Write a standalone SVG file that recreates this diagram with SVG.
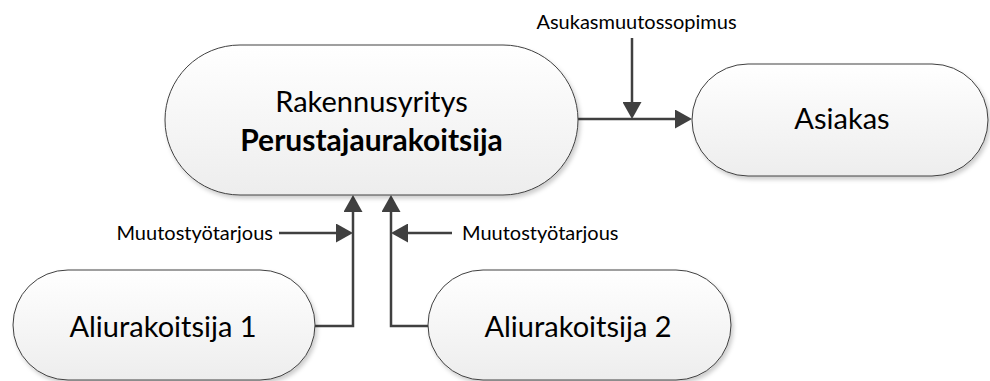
<svg xmlns="http://www.w3.org/2000/svg" width="990" height="381" viewBox="0 0 990 381">
  <defs>
    <linearGradient id="fillGrad" x1="0" y1="0" x2="0" y2="1">
      <stop offset="0" stop-color="#ffffff"/>
      <stop offset="1" stop-color="#ededed"/>
    </linearGradient>
    <filter id="shadow" x="-10%" y="-10%" width="125%" height="130%">
      <feDropShadow dx="2" dy="3" stdDeviation="2" flood-color="#000000" flood-opacity="0.2"/>
    </filter>
    <marker id="arrow" markerUnits="userSpaceOnUse" markerWidth="18" markerHeight="19" refX="12" refY="9.5" orient="auto" viewBox="0 0 18 19">
      <path d="M0,0 L17,9.5 L0,19 z" fill="#404040"/>
    </marker>
    <style>
      .node { fill: url(#fillGrad); stroke: #404040; stroke-width: 1; filter: url(#shadow); }
      .big { font-family: Lato, "Liberation Sans", sans-serif; font-size: 29px; fill: #000; text-anchor: middle; }
      .bold { font-weight: bold; font-size: 30px; }
      .lbl { font-family: Lato, "Liberation Sans", sans-serif; font-size: 20px; fill: #000; }
      .conn { fill: none; stroke: #404040; stroke-width: 2.5; }
    </style>
  </defs>

  <g id="connectors">
    <path class="conn" d="M578,119 L687,119" marker-end="url(#arrow)"/>
    <path class="conn" d="M632,38 L632,114" marker-end="url(#arrow)"/>
    <path class="conn" d="M315,326 L353,326 L353,200" marker-end="url(#arrow)"/>
    <path class="conn" d="M428,326 L391,326 L391,200" marker-end="url(#arrow)"/>
    <path class="conn" d="M279,233 L348,233" marker-end="url(#arrow)"/>
    <path class="conn" d="M452,233 L396,233" marker-end="url(#arrow)"/>
    <text class="lbl" x="636.5" y="29" text-anchor="middle">Asukasmuutossopimus</text>
    <text class="lbl" x="273" y="240" text-anchor="end">Muutostyötarjous</text>
    <text class="lbl" x="462" y="240" text-anchor="start">Muutostyötarjous</text>
  </g>

  <g id="perustajaurakoitsija">
    <rect class="node" x="165" y="45" width="413" height="150" rx="75" ry="75"/>
    <text class="big" x="371.5" y="112">Rakennusyritys</text>
    <text class="big bold" x="371.5" y="151">Perustajaurakoitsija</text>
  </g>

  <g id="asiakas">
    <rect class="node" x="692" y="64" width="296" height="112" rx="56" ry="56"/>
    <text class="big" x="842" y="129">Asiakas</text>
  </g>

  <g id="aliurakoitsija1">
    <rect class="node" x="13" y="270" width="302" height="110" rx="55" ry="55"/>
    <text class="big" x="163" y="337">Aliurakoitsija 1</text>
  </g>

  <g id="aliurakoitsija2">
    <rect class="node" x="428" y="270" width="303" height="110" rx="55" ry="55"/>
    <text class="big" x="578" y="337">Aliurakoitsija 2</text>
  </g>
</svg>
